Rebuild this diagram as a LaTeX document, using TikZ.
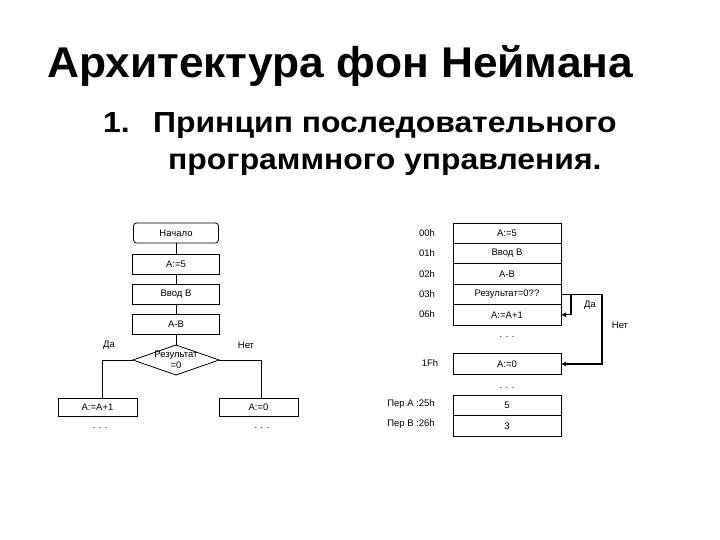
\documentclass[tikz,border=0pt]{standalone}
\usepackage{fontspec}
\setmainfont{Liberation Sans}
\newfontfamily\titlefont[FakeStretch=1.03]{Liberation Sans}
\newfontfamily\subfont[FakeStretch=1.1]{Liberation Sans}
\usetikzlibrary{shapes.geometric,arrows.meta}
\tikzset{
  box/.style={draw, line width=0.8pt, minimum height=20pt, inner sep=0pt, outer sep=0pt, font=\fontsize{9.5}{11}\selectfont},
  lbl/.style={inner sep=0pt, font=\fontsize{9.5}{11}\selectfont},
  conn/.style={line width=0.8pt},
  arr/.style={line width=1.2pt, -{Latex[length=5pt,width=5pt]}},
}
\begin{document}
\begin{tikzpicture}[x=1pt,y=-1pt]
\useasboundingbox (0,0) rectangle (720,540);
% titles
\node[anchor=base west, inner sep=0pt, font=\titlefont\fontsize{43}{50}\bfseries\selectfont] (title) at (47,78) {Архитектура фон Неймана};
\node[anchor=base west, inner sep=0pt, font=\subfont\fontsize{29}{35}\bfseries\selectfont] (num) at (103,133) {1.};
\node[anchor=base west, inner sep=0pt, font=\subfont\fontsize{29}{35}\bfseries\selectfont] (sub1) at (153,133) {Принцип последовательного};
\node[anchor=base west, inner sep=0pt, font=\subfont\fontsize{29}{35}\bfseries\selectfont] (sub2) at (168,170) {программного управления.};

% left flowchart
\node[box, rounded corners=3pt, minimum width=85pt] (start) at (176,233) {Начало};
\node[box, minimum width=87pt] (a5) at (176,264) {A:=5};
\node[box, minimum width=87pt] (vvod) at (176,294) {Ввод B};
\node[box, minimum width=87pt] (amb) at (176,324) {A-B};
\node[diamond, draw, line width=0.8pt, minimum width=86pt, minimum height=30pt, inner sep=0pt, outer sep=0pt] (dec) at (176,360) {};
\node[lbl, align=center] (dect) at (176,360) {Результат\\=0};
\node[box, minimum width=79pt, minimum height=18pt] (aa1) at (97.5,407) {A:=A+1};
\node[box, minimum width=79pt, minimum height=18pt] (a0) at (258.5,407) {A:=0};
\node[lbl] (dl1) at (100,428) {. . .};
\node[lbl] (dl2) at (262,428) {. . .};
\node[lbl] (da1) at (109,345) {Да};
\node[lbl] (net1) at (246,345) {Нет};
\draw[conn] (start) -- (a5);
\draw[conn] (a5) -- (vvod);
\draw[conn] (vvod) -- (amb);
\draw[conn] (amb) -- (dec);
\coordinate (lj) at (102,398);
\coordinate (rj) at (261,398);
\draw[conn] (dec.west) -| (lj);
\draw[conn] (dec.east) -| (rj);

% memory table
\node[box, minimum width=108pt, minimum height=20.4pt] (m0) at (507,233.2) {A:=5};
\node[box, minimum width=108pt, minimum height=20.4pt, anchor=north] (m1) at (m0.south) {Ввод B};
\node[box, minimum width=108pt, minimum height=20.4pt, anchor=north] (m2) at (m1.south) {A-B};
\node[box, minimum width=108pt, minimum height=20.4pt, anchor=north] (m3) at (m2.south) {Результат=0??};
\node[box, minimum width=108pt, minimum height=20.4pt, anchor=north] (m4) at (m3.south) {A:=A+1};
\node[lbl] (h0) at (427,233) {00h};
\node[lbl] (h1) at (427,253.5) {01h};
\node[lbl] (h2) at (427,274) {02h};
\node[lbl] (h3) at (427,294) {03h};
\node[lbl] (h4) at (427,314.5) {06h};
\node[lbl] (md1) at (507,337) {. . .};
\node[box, minimum width=108pt, minimum height=21pt] (m5) at (507,364) {A:=0};
\node[lbl] (h5) at (430,363) {1Fh};
\node[lbl] (md2) at (507,388) {. . .};
\node[box, minimum width=108pt, minimum height=20.5pt] (v1) at (507,405.25) {5};
\node[box, minimum width=108pt, minimum height=20.5pt, anchor=north] (v2) at (v1.south) {3};
\node[lbl] (pa) at (411,404) {Пер A :25h};
\node[lbl] (pb) at (411,424.5) {Пер B :26h};
\node[lbl] (da2) at (590,305) {Да};
\node[lbl] (net2) at (620,325) {Нет};
\path (m3.east) ++(10,0) coordinate (cda);
\path (m3.east) ++(41,0) coordinate (cnet);
\draw[line width=1.2pt] (m3.east) -- (cnet);
\draw[arr] (cda) |- (m4.east);
\draw[arr] (cnet) |- (m5.east);
\end{tikzpicture}
\end{document}
